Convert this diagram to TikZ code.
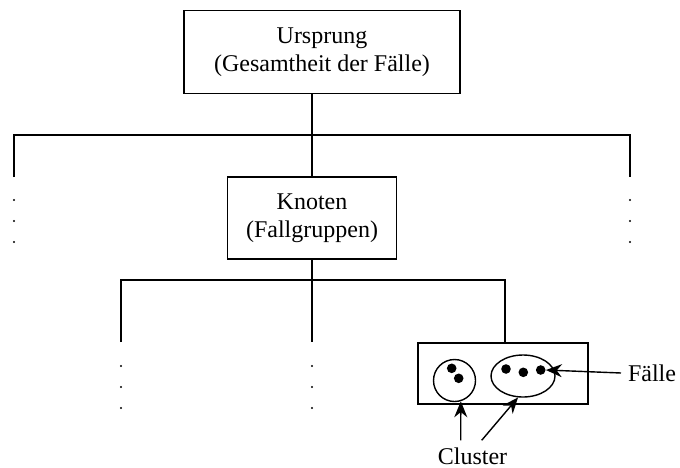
\documentclass[tikz,border=0pt]{standalone}
\usepackage{fontspec}
\setmainfont{Liberation Serif}
\usetikzlibrary{arrows.meta, positioning, shapes.geometric}

\begin{document}
\begin{tikzpicture}[x=0.5pt, y=-0.5pt, font=\fontsize{12}{14}\selectfont,
	kasten/.style={draw, line width=0.9pt, align=center, inner sep=0pt},
	ast/.style={line width=0.9pt},
	gruppe/.style={draw, line width=0.7pt, inner sep=0pt},
	fall/.style={circle, fill, inner sep=0pt, minimum size=4.8pt},
	pfeil/.style={line width=0.7pt, -{Stealth[length=8pt, width=6.5pt]}}]

	\useasboundingbox (0,0) rectangle (680,467);

	% Kästen
	\node[kasten, minimum width=138pt, minimum height=41.5pt] (ursprung) at (322,52)
		{Ursprung\\(Gesamtheit der Fälle)};
	\node[kasten, minimum width=84.5pt, minimum height=41pt] (knoten) at (312,218)
		{Knoten\\(Fallgruppen)};
	\node[kasten, minimum width=85pt, minimum height=30.5pt] (fallbox) at (503,373.5) {};

	% Verzweigungen
	\coordinate (astL) at (14,135);
	\coordinate (astR) at (630,135);
	\coordinate (astU) at (121,280);
	\coordinate (astO) at (505,280);
	\draw[ast] (ursprung.south -| knoten.north) -- (knoten.north);
	\draw[ast] ([yshift=-21pt]astL) -- (astL) -- (astR) -- ++(0,42);
	\draw[ast] (knoten.south) -- (knoten.south |- astU) -- ++(0,62);
	\draw[ast] ([yshift=-31pt]astU) -- (astU) -- (astO) -- (fallbox.north -| astO);

	% Fortsetzungspunkte
	\foreach \x/\y in {14/200, 630/200, 121/366, 312/366}
		\foreach \d in {0,21,42}
			\fill (\x,\y+\d) circle (0.6pt);

	% Cluster mit Fällen
	\node[gruppe, circle, minimum size=21pt] (cl1) at (454.5,380.5) {};
	\node[gruppe, ellipse, minimum width=32pt, minimum height=21pt] (cl2) at (523,376) {};
	\node[fall] (f1) at (451.7,368.3) {};
	\node[fall] (f2) at (458.7,378.3) {};
	\node[fall] (f3) at (506,369) {};
	\node[fall] (f4) at (523.3,372.3) {};
	\node[fall] (f5) at (540.7,370) {};

	% Beschriftungen
	\node[anchor=west] (faelle) at (621,373) {Fälle};
	\node[anchor=base] (clusterlbl) at (472.5,464) {Cluster};
	\draw[pfeil] (faelle.west) -- (f5.east);
	\draw[pfeil] ([xshift=-5.9pt]clusterlbl.north) -- (cl1.-73);
	\draw[pfeil] ([xshift=4.6pt]clusterlbl.north) -- (cl2.-103);
\end{tikzpicture}
\end{document}
